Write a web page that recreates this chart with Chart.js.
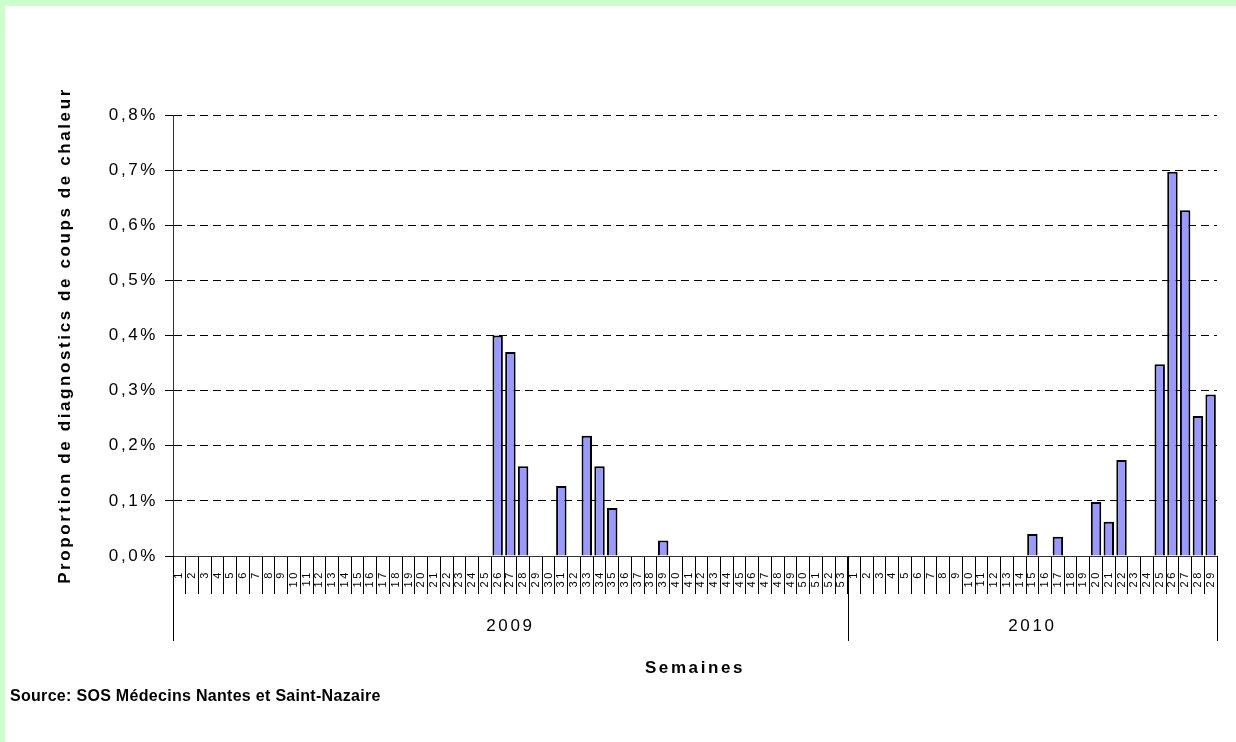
<!DOCTYPE html>
<html>
<head>
<meta charset="utf-8">
<script src="https://cdn.jsdelivr.net/npm/chart.js@4.4.0/dist/chart.umd.min.js"></script>
<style>
  html, body { margin: 0; padding: 0; }
  body { background: #ccffcc; width: 1236px; height: 742px; overflow: hidden; position: relative; }
  #frame { position: absolute; left: 5px; top: 6px; right: 0; bottom: 0; background: #fff; }
  #chart { position: absolute; left: 0; top: 0; }
  #source { position: absolute; left: 10px; top: 687px; font: bold 16px Arial, "Liberation Sans", sans-serif; letter-spacing: 0.3px; color: #000; }
</style>
</head>
<body>
<div id="frame"></div>
<canvas id="chart" width="1236" height="742"></canvas>
<div id="source">Source: SOS Médecins Nantes et Saint-Nazaire</div>
<script>
// semaines
const weeks2009 = ["1","2","3","4","5","6","7","8","9","10","11","12","13","14","15","16","17","18","19","20",
  "21","22","23","24","25","26","27","28","29","30","31","32","33","34","35","36","37","38","39","40",
  "41","42","43","44","45","46","47","48","49","50","51","52","53"];
const weeks2010 = ["1","2","3","4","5","6","7","8","9","10","11","12","13","14","15","16","17","18","19","20",
  "21","22","23","24","25","26","27","28","29"];
const years = ["2009", "2010"];

// proportion de diagnostics (en %)
const values2009 = [0,0,0,0,0,0,0,0,0,0, 0,0,0,0,0,0,0,0,0,0, 0,0,0,0,0,
  0.40, 0.37, 0.163, 0, 0, 0.127, 0, 0.218, 0.163, 0.087, 0, 0, 0, 0.028,
  0,0,0,0,0,0,0,0,0,0,0,0,0,0];
const values2010 = [0,0,0,0,0,0,0,0,0,0,0,0,0,0,
  0.040, 0, 0.035, 0, 0, 0.098, 0.062, 0.174, 0, 0, 0.348, 0.697, 0.627, 0.254, 0.293];

const yTickLabels = ["0,0%","0,1%","0,2%","0,3%","0,4%","0,5%","0,6%","0,7%","0,8%"];

const FONT = 'Arial, "Liberation Sans", sans-serif';
Chart.defaults.font.family = FONT;
Chart.defaults.color = "#000";

// texte un peu etire comme dans l'original
const spacing = {
  id: "spacing",
  beforeUpdate(chart) { chart.ctx.letterSpacing = "2.6px"; },
  beforeDraw(chart) { chart.ctx.letterSpacing = "2.6px"; }
};

// deuxieme niveau de l'axe : annees
const yearGroups = {
  id: "yearGroups",
  afterDraw(chart) {
    const x = chart.scales.x;
    const ctx = chart.ctx;
    const bottom = chart.chartArea.bottom;
    const half = (x.getPixelForValue(1) - x.getPixelForValue(0)) / 2;
    const counts = [weeks2009.length, weeks2010.length];
    ctx.save();
    ctx.strokeStyle = "#000";
    ctx.lineWidth = 1;
    ctx.fillStyle = "#000";
    ctx.font = "17px " + FONT;
    ctx.textAlign = "center";
    ctx.textBaseline = "middle";
    let start = 0;
    counts.forEach((n, i) => {
      const x0 = x.getPixelForValue(start) - half;
      const x1 = x.getPixelForValue(start + n) - half;
      [x0, x1].forEach(px => {
        ctx.beginPath();
        ctx.moveTo(Math.round(px) + 0.5, bottom);
        ctx.lineTo(Math.round(px) + 0.5, bottom + 85);
        ctx.stroke();
      });
      ctx.fillText(years[i], (x0 + x1) / 2, bottom + 70);
      start += n;
    });
    ctx.restore();
  }
};

new Chart(document.getElementById("chart"), {
  type: "bar",
  data: {
    labels: weeks2009.concat(weeks2010),
    datasets: [{
      data: values2009.concat(values2010),
      backgroundColor: "#9999ff",
      borderColor: "#000",
      borderWidth: 2,
      barPercentage: 0.82,
      categoryPercentage: 1
    }]
  },
  options: {
    responsive: false,
    animation: false,
    layout: { padding: { top: 115, right: 19, bottom: 63, left: 0 } },
    plugins: { legend: { display: false }, tooltip: { enabled: false } },
    scales: {
      x: {
        offset: true,
        afterFit(scale) { scale.height = 123; },
        grid: { offset: true, drawOnChartArea: false, tickLength: 38, tickColor: "#000" },
        border: { color: "#333" },
        ticks: { autoSkip: false, minRotation: 90, maxRotation: 90, padding: -24, font: { size: 11 } },
        title: { display: true, text: "Semaines", font: { size: 17, weight: "bold" }, padding: { top: 0, bottom: 0 } }
      },
      y: {
        min: 0,
        max: 0.8,
        afterFit(scale) { scale.width = 173; },
        grid: { color: "#000", tickColor: "#000", tickLength: 8, tickBorderDash: [] },
        border: { color: "#333", dash: [8, 5] },
        ticks: {
          stepSize: 0.1,
          padding: 7,
          font: { size: 17 },
          callback: (v, i) => yTickLabels[i]
        },
        title: {
          display: true,
          text: "Proportion de diagnostics de coups de chaleur",
          font: { size: 17, weight: "bold" },
          padding: { top: 55, bottom: 0 }
        }
      }
    }
  },
  plugins: [spacing, yearGroups]
});
</script>
</body>
</html>
